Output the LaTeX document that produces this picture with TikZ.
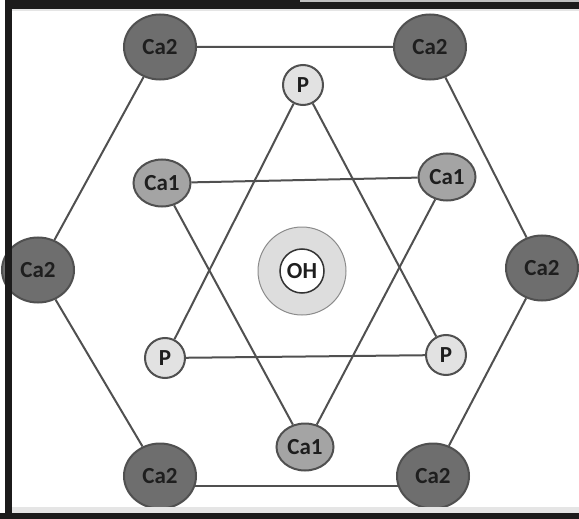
\documentclass[tikz,border=0pt]{standalone}
\usepackage{fontspec}
\setmainfont{Carlito}
\usepackage{xcolor}
\definecolor{CaTwo}{HTML}{6E6E6E}
\definecolor{CaOne}{HTML}{A4A4A4}
\definecolor{PFill}{HTML}{E2E2E2}
\definecolor{OHRing}{HTML}{DDDDDD}
\definecolor{Edge}{HTML}{505050}
\definecolor{Ink}{HTML}{1E1E1E}
\definecolor{Frame}{HTML}{1C1B1B}
\usepackage{tikz}
\usetikzlibrary{shapes.geometric, positioning, calc, backgrounds}

\tikzset{
  atom/.style={draw=Edge, line width=2pt, inner sep=0pt, text=Ink,
               font=\fontsize{23}{23}\selectfont\bfseries},
  catwo/.style={atom, ellipse, fill=CaTwo, minimum width=72pt, minimum height=65pt},
  caone/.style={atom, ellipse, fill=CaOne, minimum width=57pt, minimum height=47pt},
  phos/.style={atom, circle, fill=PFill, minimum size=40pt},
  bond/.style={draw=Edge, line width=2pt}
}

\begin{document}
\begin{tikzpicture}[x=1pt, y=-1pt]
  \useasboundingbox (0,0) rectangle (579,519);

  % outer Ca2 hexagon
  \node[catwo] (ca2tl) at (160,47)  {Ca2};
  \node[catwo] (ca2tr) at (430,47)  {Ca2};
  \node[catwo] (ca2l)  at (38,270)  {Ca2};
  \node[catwo] (ca2r)  at (542,268) {Ca2};
  \node[catwo] (ca2bl) at (160,476) {Ca2};
  \node[catwo] (ca2br) at (433,476) {Ca2};

  % P triangle
  \node[phos] (ptop)   at (303,85)  {P};
  \node[phos] (pleft)  at (165,358) {P};
  \node[phos] (pright) at (446,355) {P};

  % Ca1 triangle
  \node[caone] (ca1l) at (162,183) {Ca1};
  \node[caone] (ca1r) at (447,177) {Ca1};
  \node[caone] (ca1b) at (305,447) {Ca1};

  % central OH
  \node[circle, draw=black!45, line width=1pt, fill=OHRing, minimum size=88pt] (ohring) at (302,271) {};
  \node[atom, circle, draw=black!80, line width=1.5pt, fill=white, minimum size=44pt] (oh) at (ohring.center) {OH};

  \begin{scope}[on background layer]
    \fill[white] (0,0) rectangle (579,519);
    \draw[bond] (ca2tl) -- (ca2tr) -- (ca2r) -- (ca2br);
    \draw[bond] (ca2tl) -- (ca2l) -- (ca2bl);
    \draw[bond] (ca2bl.-15) -- (ca2br.195);
    \draw[bond] (ptop) -- (pleft) -- (pright) -- (ptop);
    \draw[bond] (ca1l) -- (ca1r) -- (ca1b) -- (ca1l);
  \end{scope}

  % frame (left, top, bottom)
  \fill[Frame] (5,0) rectangle (579,9);
  \fill[black!25] (300,0) rectangle (579,2.5);
  \fill[black!10] (12,9) rectangle (579,11);
  \fill[black!10] (12,507) rectangle (579,513);
  \fill[Frame] (0,513) rectangle (579,519);
  \fill[Frame] (5,0) rectangle (12,519);
\end{tikzpicture}
\end{document}
